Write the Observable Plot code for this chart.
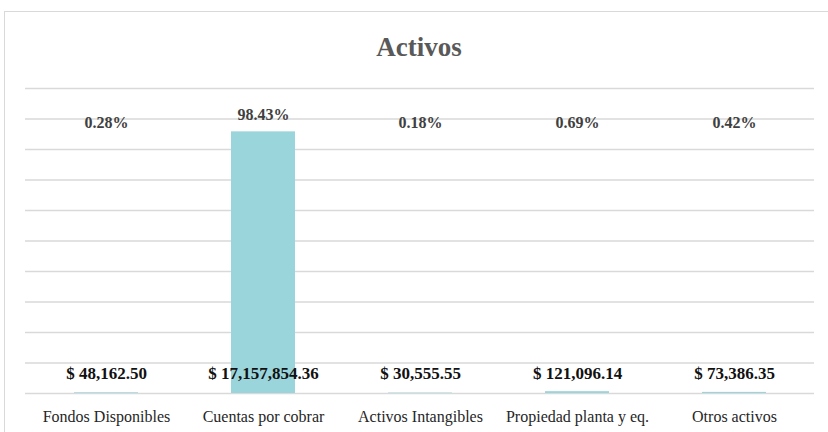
<!DOCTYPE html>
<html>
<head>
<meta charset="utf-8">
<script src="https://cdn.jsdelivr.net/npm/d3@7"></script>
<script src="https://cdn.jsdelivr.net/npm/@observablehq/plot@0.6"></script>
<style>
  html, body { margin: 0; padding: 0; background: #fff; overflow: hidden; }
  #frame {
    position: absolute; left: 4px; top: 11px; width: 840px; height: 440px;
    border: 1px solid #d9d9d9; box-sizing: border-box; background: #fff;
  }
  #title {
    position: absolute; left: 0; top: 20px; width: 828px; text-align: center;
    font-family: "Liberation Serif", serif; font-size: 27px; font-weight: bold; color: #595959;
    line-height: 30px;
  }
  #chart { position: absolute; left: 0; top: 58px; }
  #chart svg text { font-family: "Liberation Serif", serif; }
</style>
</head>
<body>
<div id="frame">
  <div id="title">Activos</div>
  <div id="chart"></div>
</div>
<script>
const categories = ["Fondos Disponibles", "Cuentas por cobrar", "Activos Intangibles", "Propiedad planta y eq.", "Otros activos"];
const values = [48162.50, 17157854.36, 30555.55, 121096.14, 73386.35];
const percents = ["0.28%", "98.43%", "0.18%", "0.69%", "0.42%"];
const yTicks = [0, 2e6, 4e6, 6e6, 8e6, 10e6, 12e6, 14e6, 16e6, 18e6, 20e6];

const data = categories.map((c, i) => ({category: c, value: values[i], pct: percents[i]}));
const maxVal = d3.max(values);
const fmt = d3.format(",.2f");
const serif = "Liberation Serif, serif";

const chart = Plot.plot({
  width: 823,
  height: 362,
  marginLeft: 20,
  marginRight: 14,
  marginTop: 18,
  marginBottom: 39,
  style: {fontFamily: serif, background: "transparent"},
  x: {domain: categories, paddingInner: 0.594, paddingOuter: 0.297, label: null, axis: null},
  y: {domain: [0, 20e6], axis: null},
  marks: [
    Plot.ruleY(yTicks, {stroke: "#d9d9d9", strokeWidth: 1.4}),
    Plot.barY(data, {x: "category", y: "value", fill: "#9bd5dc"}),
    Plot.text(data.filter(d => d.value < maxVal), {x: "category", y: () => maxVal, text: "pct", dy: -9, fontSize: 16, fontWeight: "bold", fontFamily: serif, fill: "#404040"}),
    Plot.text(data.filter(d => d.value === maxVal), {x: "category", y: "value", text: "pct", dy: -17, fontSize: 16, fontWeight: "bold", fontFamily: serif, fill: "#404040"}),
    Plot.text(data, {x: "category", y: () => 0, text: d => "$ " + fmt(d.value), dy: -20, fontSize: 17, fontWeight: "bold", fontFamily: serif, fill: "#111"}),
    Plot.axisX({domain: categories, tickSize: 0, tickPadding: 17, fontSize: 16, fontFamily: serif, fill: "#262626", label: null})
  ]
});
document.getElementById("chart").appendChild(chart);
</script>
</body>
</html>
